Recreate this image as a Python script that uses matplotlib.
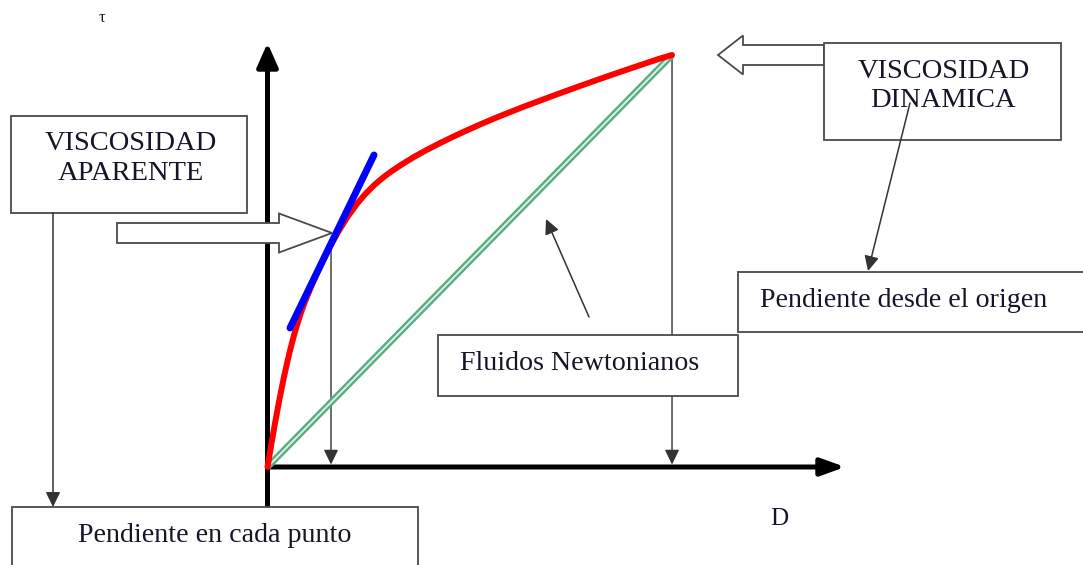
import matplotlib
matplotlib.use("Agg")
import matplotlib.pyplot as plt
from matplotlib.patches import FancyArrow, Rectangle

# ---------------- data (D, tau) ----------------
curve_D = [0.0, 0.099, 0.185, 0.292, 0.408, 0.539, 0.668, 0.821, 0.942, 1.117,
           1.333, 1.555, 1.745, 1.975, 2.208, 2.418, 2.640, 2.858, 3.075, 3.335,
           3.619, 3.931, 4.270, 4.574, 4.893, 5.226, 5.575, 5.938, 6.316, 6.710,
           7.110, 7.518, 7.933, 8.356, 8.786, 9.224, 9.669, 10.0]
curve_tau = [0.0, 0.575, 1.061, 1.626, 2.192, 2.760, 3.245, 3.731, 4.053, 4.466,
             4.927, 5.364, 5.704, 6.068, 6.383, 6.626, 6.845, 7.027, 7.184, 7.354,
             7.524, 7.694, 7.864, 8.010, 8.155, 8.301, 8.447, 8.592, 8.738, 8.883,
             9.029, 9.175, 9.320, 9.466, 9.612, 9.757, 9.903, 10.0]
tangent_D = [0.556, 2.633]
tangent_tau = [3.374, 7.573]
newton_D = [0.0, 10.0]
newton_tau = [0.0, 10.0]
tangent_point = [1.57, 5.30]
end_point = [10.0, 10.0]

label_tau = "τ"
label_D = "D"
txt_aparente = ["VISCOSIDAD", "APARENTE"]
txt_dinamica = ["VISCOSIDAD", "DINAMICA"]
txt_newton = "Fluidos Newtonianos"
txt_origen = "Pendiente desde el origen"
txt_punto = "Pendiente en cada punto"

# ---------------- figure ----------------
W, H = 1083, 565
fig = plt.figure(figsize=(W / 100, H / 100), dpi=100)
fig.patch.set_facecolor("white")

ax = fig.add_axes([0, 0, 1, 1])
ax.set_xlim(-6.613, 20.16)
ax.set_ylim(-2.379, 11.335)
ax.axis("off")

serif = "Liberation Serif"
tcol = "#15152a"
ecol = "#4a4a4a"

# axes arrows
ax.annotate("", xy=(0, 10.29), xytext=(0, -0.97),
            arrowprops=dict(arrowstyle="-|>,head_length=0.72,head_width=0.32",
                            lw=3.6, color="black", shrinkA=0, shrinkB=0,
                            mutation_scale=20))
ax.annotate("", xy=(14.28, 0), xytext=(0, 0),
            arrowprops=dict(arrowstyle="-|>,head_length=0.72,head_width=0.26",
                            lw=3.6, color="black", shrinkA=0, shrinkB=0,
                            mutation_scale=20))

# newtonian line (double green)
ax.plot(newton_D, newton_tau, color="#5aad84", lw=4.8, solid_capstyle="butt", zorder=3)
ax.plot(newton_D, newton_tau, color="#e4f2ea", lw=1.3, solid_capstyle="butt", zorder=3.1)

# red curve
ax.plot(curve_D, curve_tau, color="#ff0000", lw=4.3, solid_joinstyle="round",
        solid_capstyle="round", zorder=4)
# blue tangent
ax.plot(tangent_D, tangent_tau, color="#0000ff", lw=5.0, solid_capstyle="round", zorder=5)

# vertical arrows to x-axis
thin = dict(arrowstyle="-|>,head_length=0.45,head_width=0.22", lw=1.0,
            color="#333333", shrinkA=0, shrinkB=0, mutation_scale=20)
ax.annotate("", xy=(tangent_point[0], 0.06), xytext=(tangent_point[0], tangent_point[1]),
            arrowprops=thin, zorder=2)
ax.annotate("", xy=(end_point[0], 0.06), xytext=(end_point[0], end_point[1]),
            arrowprops=thin, zorder=2)

# ---------------- overlay in pixel space ----------------
ov = fig.add_axes([0, 0, 1, 1], zorder=5)
ov.set_xlim(0, W)
ov.set_ylim(H, 0)
ov.axis("off")
ov.patch.set_alpha(0)


def box(x0, y0, x1, y1):
    ov.add_patch(Rectangle((x0, y0), x1 - x0, y1 - y0, facecolor="white",
                           edgecolor=ecol, lw=1.3, zorder=3))


box(11, 116, 247, 213)
box(824, 43, 1061, 140)
box(438, 335, 738, 396)
box(738, 272, 1090, 332)
box(12, 507, 418, 590)

# block arrows
ov.add_patch(FancyArrow(117, 233, 215, 0, width=20, head_width=39, head_length=53,
                        length_includes_head=True, facecolor="white",
                        edgecolor=ecol, lw=1.3, zorder=4))
ov.add_patch(FancyArrow(824, 55, -106, 0, width=20, head_width=39, head_length=25,
                        length_includes_head=True, facecolor="white",
                        edgecolor=ecol, lw=1.3, zorder=2))

# connector arrows
thin2 = dict(arrowstyle="-|>,head_length=0.45,head_width=0.22", lw=1.1,
             color="#333333", shrinkA=0, shrinkB=0, mutation_scale=20)
ov.annotate("", xy=(53, 507), xytext=(53, 213), arrowprops=thin2, zorder=5)
ov.annotate("", xy=(868, 271), xytext=(910, 103), arrowprops=thin2, zorder=6)
ov.annotate("", xy=(546, 219), xytext=(589, 317), arrowprops=thin2, zorder=6)

# texts
fs_caps = 20.5
fs_low = 20.2
kw = dict(family=serif, color=tcol, va="baseline", zorder=6)
ov.text(131, 150, txt_aparente[0], fontsize=fs_caps, ha="center", **kw)
ov.text(131, 180, txt_aparente[1], fontsize=fs_caps, ha="center", **kw)
ov.text(944, 78, txt_dinamica[0], fontsize=fs_caps, ha="center", **kw)
ov.text(943, 107, txt_dinamica[1], fontsize=fs_caps, ha="center", **kw)
ov.text(460, 370, txt_newton, fontsize=fs_low, ha="left", **kw)
ov.text(760, 307, txt_origen, fontsize=fs_low, ha="left", **kw)
ov.text(215, 542, txt_punto, fontsize=fs_low, ha="center", **kw)
ov.text(102, 22, label_tau, fontsize=12, family=serif, color="#301030",
        ha="center", va="baseline", zorder=6)
ov.text(779, 525, label_D, fontsize=18, ha="center", **kw)

fig.savefig("out.png", dpi=100, facecolor="white")
